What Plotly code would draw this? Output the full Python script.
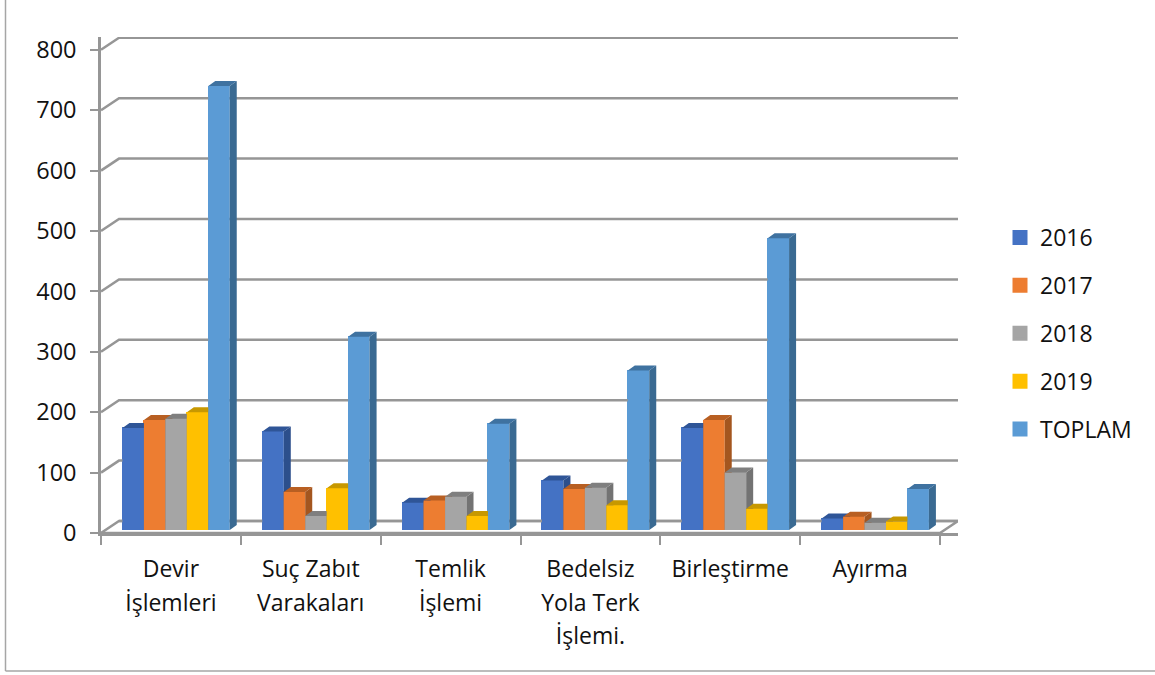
import plotly.graph_objects as go

categories = ["Devir<br>İşlemleri", "Suç Zabıt<br>Varakaları", "Temlik<br>İşlemi",
              "Bedelsiz<br>Yola Terk<br>İşlemi.", "Birleştirme", "Ayırma"]
series_names = ["2016", "2017", "2018", "2019", "TOPLAM"]
v2016 = [169, 163, 45, 82, 169, 19]
v2017 = [182, 63, 49, 68, 182, 22]
v2018 = [184, 23, 55, 70, 95, 12]
v2019 = [195, 69, 23, 41, 35, 14]
vtoplam = [735, 320, 176, 264, 483, 68]
y_ticks = [0, 100, 200, 300, 400, 500, 600, 700, 800]

values = [v2016, v2017, v2018, v2019, vtoplam]
front = ["#4472C4", "#ED7D31", "#A5A5A5", "#FFC000", "#5B9BD5"]
side = ["#2C4F8C", "#A4561F", "#737373", "#B38700", "#3A6A92"]
top = ["#2F5597", "#B85F22", "#7F7F7F", "#C79800", "#3F72A0"]
GRID = "#969696"
FONT = "Open Sans, sans-serif"
TXT = "#111111"

# pixel geometry of the plot box and scales
L, R, T, B = 101, 958, 37, 533
px_x = 839 / 6          # px per category
px_y = 0.604            # px per value unit
xmax = (R - L) / px_x
ymax = (B - T) / px_y
wall_dx, wall_dy = 18 / px_x, 12 / px_y    # depth of the back wall
bar_dx, bar_dy = 7 / px_x, 5 / px_y        # depth of a bar
floor_dx, floor_dy = 5.2 / px_x, 3 / px_y  # where bars stand on the floor
bw = 21.45 / px_x
pad = 1.5 / px_y
padx = 1.5 / px_x

fig = go.Figure()

# walls and floor
wx, wy = [], []
for t in y_ticks:
    wx += [0, wall_dx, xmax, None]
    wy += [t, t + wall_dy, t + wall_dy, None]
wx += [0, 6, 6 + wall_dx, wall_dx]
wy += [0, 0, wall_dy, wall_dy]
fig.add_trace(go.Scatter(x=wx, y=wy, mode="lines", line=dict(color=GRID, width=2.5),
                         hoverinfo="skip", showlegend=False, cliponaxis=False))

poly_traces = []
for j, name in enumerate(series_names):
    centers = [i + 0.5 + floor_dx + (j - 2) * bw for i in range(6)]
    # real bars: carry the legend and sit below the 3-D faces
    fig.add_trace(go.Bar(
        x=centers, y=[v - 2 * pad for v in values[j]], base=floor_dy + pad,
        width=bw - 2 * padx, name=name, legendgroup=name,
        marker=dict(color=front[j], line=dict(color=front[j], width=3)),
        hovertemplate=name + ": %{customdata}<extra></extra>", customdata=values[j]))
    sx, sy, tx, ty, fx, fy = [], [], [], [], [], []
    for c, v in zip(centers, values[j]):
        x0, x1 = c - bw / 2, c + bw / 2
        y0, y1 = floor_dy, floor_dy + v
        sx += [x1, x1 + bar_dx, x1 + bar_dx, x1, x1, None]
        sy += [y0, y0 + bar_dy, y1 + bar_dy, y1, y0, None]
        tx += [x0, x0 + bar_dx, x1 + bar_dx, x1, x0, None]
        ty += [y1, y1 + bar_dy, y1 + bar_dy, y1, y1, None]
        fx += [x0, x1, x1, x0, x0, None]
        fy += [y0, y0, y1, y1, y0, None]
    poly_traces += [(fx, fy, front[j]), (sx, sy, side[j]), (tx, ty, top[j])]

# painter order: front of a later bar hides the side of the one before
for px_, py_, col in poly_traces:
    fig.add_trace(go.Scatter(x=px_, y=py_, mode="lines", fill="toself", fillcolor=col,
                             line=dict(width=0, color=col), hoverinfo="skip",
                             showlegend=False, cliponaxis=False))

SPAN = '<span style="font-size:23px">'
cat_labels = [SPAN + c.replace("<br>", "</span><br>" + SPAN) + "</span>" for c in categories]

fig.update_layout(
    width=1155, height=675, autosize=False,
    margin=dict(l=L, r=1155 - R, t=T, b=675 - B),
    paper_bgcolor="white", plot_bgcolor="white",
    barmode="overlay", bargap=0,
    font=dict(family=FONT, size=23, color=TXT),
    xaxis=dict(range=[0, xmax], showgrid=False, zeroline=False, showline=True,
               linecolor=GRID, linewidth=2.5,
               tickmode="array", tickvals=[i + 0.5 for i in range(6)], ticktext=cat_labels,
               ticks="", tickangle=0, ticklabelstandoff=11,
               tickfont=dict(family=FONT, size=25.6, color=TXT),
               minor=dict(tickmode="array", tickvals=list(range(7)), ticks="outside",
                          ticklen=9, tickwidth=1.5, tickcolor=GRID, showgrid=False)),
    yaxis=dict(range=[0, ymax], showgrid=False, zeroline=False, showline=True,
               linecolor=GRID, linewidth=2.5,
               tickmode="array", tickvals=y_ticks, ticks="outside", ticklen=8,
               tickwidth=1.5, tickcolor=GRID, ticklabelstandoff=9,
               tickfont=dict(family=FONT, size=23.5, color=TXT)),
    legend=dict(x=(1000 - L) / (R - L), y=(B - 216) / (B - T), xanchor="left", yanchor="top",
                font=dict(family=FONT, size=23, color=TXT), tracegroupgap=15,
                bgcolor="rgba(0,0,0,0)", borderwidth=0, traceorder="grouped"),
    shapes=[
        dict(type="line", xref="paper", yref="paper",
             x0=(5.5 - L) / (R - L), x1=(5.5 - L) / (R - L),
             y0=(B - 671) / (B - T), y1=(B - 0) / (B - T),
             line=dict(color="#A6A6A6", width=1.5)),
        dict(type="line", xref="paper", yref="paper",
             x0=(5.5 - L) / (R - L), x1=(1155 - L) / (R - L),
             y0=(B - 671) / (B - T), y1=(B - 671) / (B - T),
             line=dict(color="#A6A6A6", width=1.5)),
    ],
)

fig.write_html("out.html", post_script="document.body.style.margin='0';",
               config={"displayModeBar": False})
